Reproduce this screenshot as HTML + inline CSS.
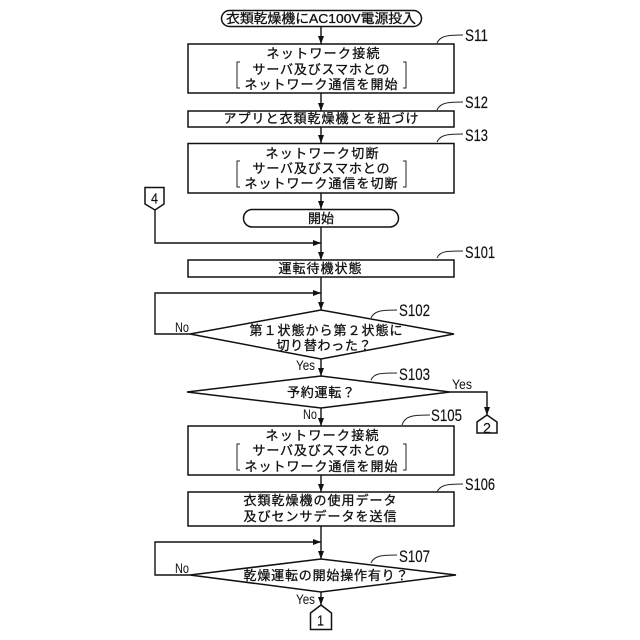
<!DOCTYPE html>
<html><head><meta charset="utf-8"><style>
html,body{margin:0;padding:0;background:#fff}
svg{display:block}
text{font-family:"Liberation Sans","Noto Sans CJK JP",sans-serif;fill:#111}
.t{font-size:13px;text-anchor:middle;stroke:#111;stroke-width:.3px}
.s{font-size:16.500px;stroke:#111;stroke-width:.15px}
.y{font-size:14px}
.n{font-size:15px;stroke:#111;stroke-width:.15px}
.b{fill:#fff;stroke:#111;stroke-width:1.5}
.l{fill:none;stroke:#111;stroke-width:1.4}
.c{fill:none;stroke:#222;stroke-width:1}
.a{fill:#111;stroke:none}
</style></head><body>
<svg width="640" height="640" viewBox="0 0 640 640" xmlns="http://www.w3.org/2000/svg">
<!-- main connectors -->
<path class="l" d="M321 26V44M321 93V111M321 127V143M321 193V209M321 227V260M321 277V310M321 359V376M321 408V426M321 475V492M321 526V559M321 592V605"/>
<path class="l" d="M155 210V243H321M190 334H155V293H321M450 392H487V415M190 575H155V542H321"/>
<!-- arrowheads -->
<g class="a">
<path d="M321 44l-3-8h6zM321 111l-3-8h6zM321 143l-3-8h6zM321 209l-3-8h6zM321 260l-3-8h6zM321 310l-3-8h6zM321 376l-3-8h6zM321 426l-3-8h6zM321 492l-3-8h6zM321 559l-3-8h6zM321 605l-3-8h6zM487 415l-3-8h6z"/>
<path d="M321 243l-8-3v6zM321 293l-8-3v6zM321 542l-8-3v6z"/>
</g>
<!-- boxes -->
<rect class="b" x="221.500" y="10.500" width="200" height="16" rx="8"/>
<rect class="b" x="188" y="44" width="266" height="49"/>
<rect class="b" x="188" y="111" width="266" height="16"/>
<rect class="b" x="188" y="143.500" width="266" height="49.500"/>
<rect class="b" x="243.500" y="209.500" width="155" height="17.500" rx="8.700"/>
<rect class="b" x="188" y="260" width="266" height="17"/>
<rect class="b" x="188" y="426" width="266" height="49"/>
<rect class="b" x="188" y="492" width="266" height="34"/>
<path class="b" d="M190 334L321 310L454 334L321 359Z"/>
<path class="b" d="M187 392L321 376L450 392L321 408Z"/>
<path class="b" d="M190 575L321 559L456 575L321 592Z"/>
<!-- off-page connectors -->
<path class="b" d="M145 187.500H164V204L155 210L145 204Z"/>
<path class="b" d="M477 422L487 415L497 422V433H477Z"/>
<path class="b" d="M310.500 613L321 605L331.500 613V629.500H310.500Z"/>
<!-- brackets -->
<path class="c" d="M240 62H237V88H240M403 62H406V88H403M240 161H237V187H240M403 161H406V187H403M240 444H237V470H240M403 444H406V470H403"/>
<!-- step leaders -->
<path class="c" d="M437 43C440 36 447 35 463 35M437 110C440 103 447 102 463 102M437 142C440 135 447 134 463 134M437 258C440 251 447 251 463 251M371 318C374 311 381 310 397 310M371 380C374 373 381 373 397 373M402 425C405 416 412 415 430 415M437 492C440 485 447 484 463 484M371 563C374 556 381 555 397 555"/>
<!-- node text -->
<text class="t" x="321" y="23" textLength="190" lengthAdjust="spacingAndGlyphs">衣類乾燥機にAC100V電源投入</text>
<text class="t" x="323" y="58" textLength="113">ネットワーク接続</text>
<text class="t" x="321" y="74" textLength="137">サーバ及びスマホとの</text>
<text class="t" x="321" y="89" textLength="153">ネットワーク通信を開始</text>
<text class="t" x="321" y="123" textLength="195">アプリと衣類乾燥機とを紐づけ</text>
<text class="t" x="322" y="158" textLength="113">ネットワーク切断</text>
<text class="t" x="321" y="173" textLength="137">サーバ及びスマホとの</text>
<text class="t" x="321" y="188" textLength="153">ネットワーク通信を切断</text>
<text class="t" x="321" y="223" textLength="26">開始</text>
<text class="t" x="320" y="273" textLength="83">運転待機状態</text>
<text class="t" x="326" y="335" textLength="153">第１状態から第２状態に</text>
<text class="t" x="324" y="350" textLength="95">切り替わった？</text>
<text class="t" x="321" y="397" textLength="68">予約運転？</text>
<text class="t" x="322" y="440" textLength="113">ネットワーク接続</text>
<text class="t" x="321" y="455" textLength="137">サーバ及びスマホとの</text>
<text class="t" x="321" y="471" textLength="153">ネットワーク通信を開始</text>
<text class="t" x="320" y="505" textLength="153">衣類乾燥機の使用データ</text>
<text class="t" x="320" y="521" textLength="153">及びセンサデータを送信</text>
<text class="t" x="326" y="580" textLength="165">乾燥運転の開始操作有り？</text>
<!-- step labels -->
<text class="s" x="465" y="41" textLength="23" lengthAdjust="spacingAndGlyphs">S11</text>
<text class="s" x="465" y="108" textLength="23" lengthAdjust="spacingAndGlyphs">S12</text>
<text class="s" x="465" y="141" textLength="23" lengthAdjust="spacingAndGlyphs">S13</text>
<text class="s" x="465" y="258" textLength="30" lengthAdjust="spacingAndGlyphs">S101</text>
<text class="s" x="399" y="316" textLength="31" lengthAdjust="spacingAndGlyphs">S102</text>
<text class="s" x="399" y="380" textLength="31" lengthAdjust="spacingAndGlyphs">S103</text>
<text class="s" x="431" y="421" textLength="31" lengthAdjust="spacingAndGlyphs">S105</text>
<text class="s" x="465" y="490" textLength="30" lengthAdjust="spacingAndGlyphs">S106</text>
<text class="s" x="399" y="562" textLength="31" lengthAdjust="spacingAndGlyphs">S107</text>
<!-- branch labels -->
<text class="y" x="175" y="332" textLength="14" lengthAdjust="spacingAndGlyphs">No</text>
<text class="y" x="296" y="370" textLength="19" lengthAdjust="spacingAndGlyphs">Yes</text>
<text class="y" x="452" y="389" textLength="20" lengthAdjust="spacingAndGlyphs">Yes</text>
<text class="y" x="303" y="419" textLength="14" lengthAdjust="spacingAndGlyphs">No</text>
<text class="y" x="175" y="573" textLength="14" lengthAdjust="spacingAndGlyphs">No</text>
<text class="y" x="296" y="604" textLength="19" lengthAdjust="spacingAndGlyphs">Yes</text>
<!-- connector labels -->
<text class="n" x="151" y="203.500" textLength="7" lengthAdjust="spacingAndGlyphs">4</text>
<text class="n" x="483" y="433" textLength="8" lengthAdjust="spacingAndGlyphs">2</text>
<text class="n" x="317" y="625.500" textLength="7" lengthAdjust="spacingAndGlyphs">1</text>
</svg>
</body></html>
